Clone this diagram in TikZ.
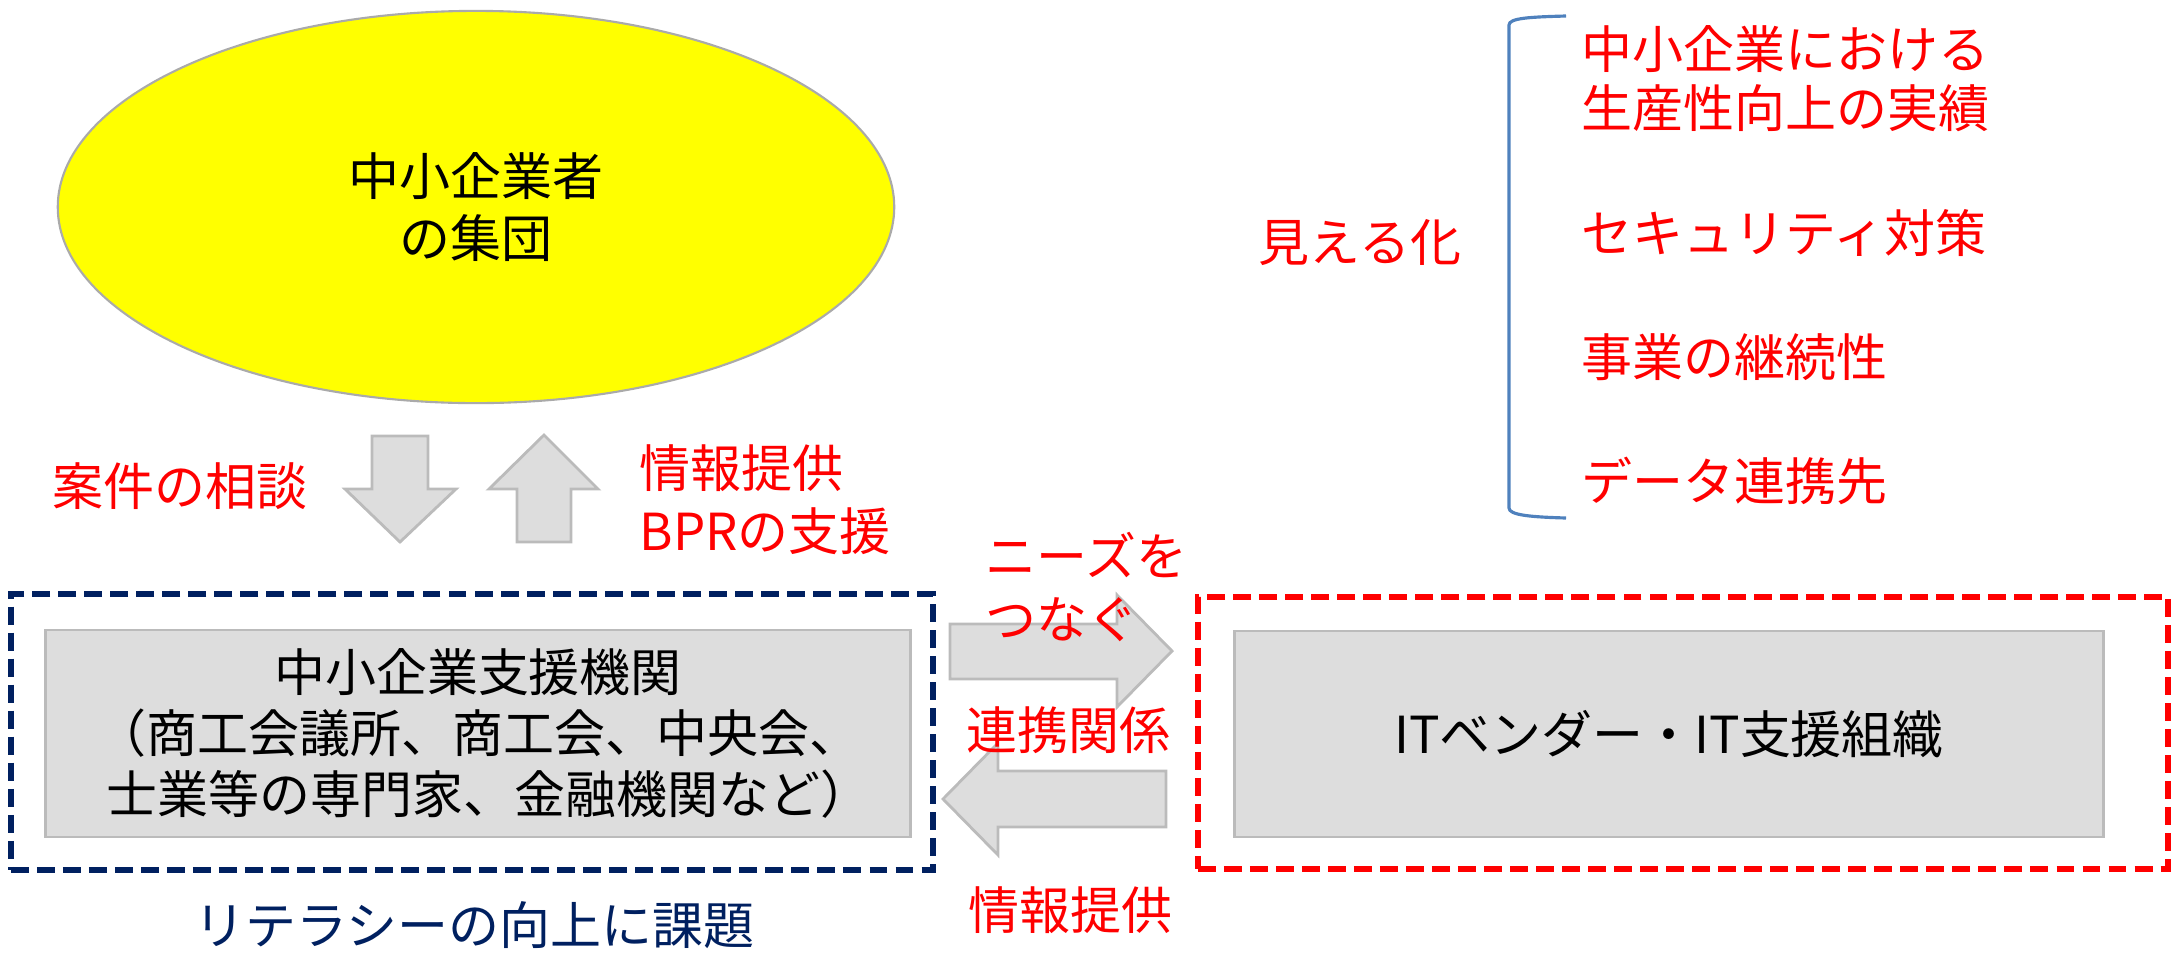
\documentclass[tikz,border=0pt]{standalone}
\usepackage{fontspec}
\setmainfont{Noto Sans CJK JP}
\usetikzlibrary{shapes.geometric}
\definecolor{navy}{HTML}{002060}
\definecolor{jred}{HTML}{FF0000}
\definecolor{jyellow}{HTML}{FFFF00}
\definecolor{boxfill}{HTML}{DDDDDD}
\definecolor{boxline}{HTML}{BBBBBB}
\definecolor{bracecol}{HTML}{4F81BD}
\definecolor{ellline}{HTML}{AAAAAA}
\tikzset{
  graybox/.style={draw=boxline, fill=boxfill, line width=0.8pt, inner sep=0pt, align=center},
  dashbox/.style={line width=1.7pt, dash pattern=on 5.1pt off 2.3pt, inner sep=0pt},
  blockarrow/.style={draw=boxline, fill=boxfill, line width=0.8pt},
  redtxt/.style={text=jred, inner sep=0pt},
}
\begin{document}
\begin{tikzpicture}[x=0.01cm, y=-0.01cm, font=\fontsize{14.5}{17.8}\selectfont]
\useasboundingbox (0,0) rectangle (2179,954);

% ellipse
\node[ellipse, draw=ellline, fill=jyellow, line width=0.6pt, minimum width=8.36cm, minimum height=3.92cm, inner sep=0pt, align=center] (grp) at (476,207) {中小企業者\\の集団};

% block arrows vertical
\draw[blockarrow] (372,436) -- (428,436) -- (428,489) -- (456,489) -- (400,542) -- (345,489) -- (372,489) -- cycle;
\draw[blockarrow] (544,435) -- (598,489) -- (571,489) -- (571,542) -- (517,542) -- (517,489) -- (489,489) -- cycle;

\node[redtxt] (soudan) at (180,486) {案件の相談};
\node[redtxt, anchor=west, align=left, font=\fontsize{14.5}{17.9}\selectfont] (teikyo1) at (639,499.5) {情報提供\\BPRの支援};

% boxes
\node[dashbox, draw=navy, minimum width=9.22cm, minimum height=2.76cm] (lframe) at (472,732) {};
\node[graybox, minimum width=8.64cm, minimum height=2.07cm, font=\fontsize{14.5}{17.4}\selectfont] (sup) at (478,733.5) {中小企業支援機関\\（商工会議所、商工会、中央会、\\\hspace*{0.22cm}士業等の専門家、金融機関など）};
\node[dashbox, draw=jred, minimum width=9.70cm, minimum height=2.72cm] (rframe) at (1683,733) {};
\node[graybox, minimum width=8.68cm, minimum height=2.06cm] (it) at (1669,734) {ITベンダー・IT支援組織};

% horizontal block arrows
\draw[blockarrow] (950,624) -- (1117,624) -- (1117,595) -- (1172,651) -- (1117,707) -- (1117,679) -- (950,679) -- cycle;
\draw[blockarrow] (1166,771) -- (998,771) -- (998,743) -- (943,799) -- (998,855) -- (998,827) -- (1166,827) -- cycle;

\node[redtxt, anchor=west, align=left] (needs) at (985,587) {ニーズを\\つなぐ};
\node[redtxt] (renkei) at (1068,730) {連携関係};
\node[redtxt] (teikyo2) at (1070,910) {情報提供};
\node[text=navy, inner sep=0pt] (literacy) at (474,925) {リテラシーの向上に課題};

% right side
\node[redtxt] (mieru) at (1360,243) {見える化};
\draw[bracecol, line width=0.9pt] (1566,16) .. controls (1530,17) and (1509,18) .. (1509,25) -- (1509,508) .. controls (1509,515) and (1530,517) .. (1566,518);
\node[redtxt, anchor=west, align=left, font=\fontsize{14.5}{16.8}\selectfont] (l1) at (1581,78.5) {中小企業における\\生産性向上の実績};
\node[redtxt, anchor=west] (l2) at (1581,233) {セキュリティ対策};
\node[redtxt, anchor=west] (l3) at (1581,357) {事業の継続性};
\node[redtxt, anchor=west] (l4) at (1581,481) {データ連携先};
\end{tikzpicture}
\end{document}
